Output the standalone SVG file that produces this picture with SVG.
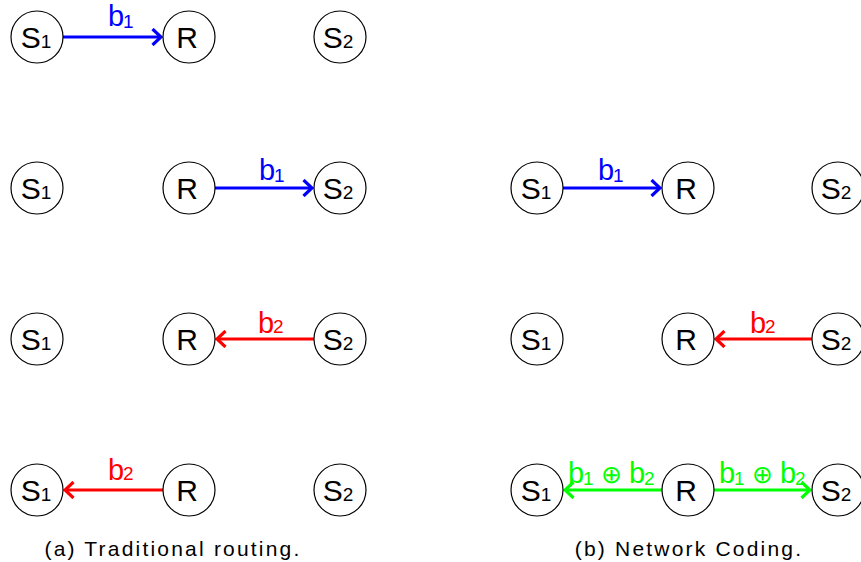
<svg xmlns="http://www.w3.org/2000/svg" width="861" height="562" viewBox="0 0 861 562">
<style>
.node circle{fill:#fff;stroke:#000;stroke-width:1.2}
.nt{font-family:"Liberation Sans",Arial,sans-serif;font-size:30px;fill:#000;text-anchor:middle}
.sub{font-size:19px}
.lbl{font-family:"Liberation Sans",Arial,sans-serif;font-size:29px}
.ls{font-size:19px}
.blue{fill:#0000ff}.red{fill:#ff0000}.green{fill:#00ff00}
.e{stroke-width:3.2;fill:none}
.eb{stroke:#0000ff}.er{stroke:#ff0000}.eg{stroke:#00ff00}
.cap{font-family:"Liberation Sans",Arial,sans-serif;font-size:21px;letter-spacing:2.2px;fill:#000;text-anchor:middle}
.xor{font-family:"DejaVu Sans",sans-serif;font-size:25px;font-weight:200}
</style>
<defs>
<marker id="ab" markerUnits="userSpaceOnUse" viewBox="0 0 12 18" refX="10" refY="9" markerWidth="12" markerHeight="18" orient="auto"><path d="M1.5,1 L10,9 L1.5,17" fill="none" stroke="#0000ff" stroke-width="3.2"/></marker>
<marker id="ar" markerUnits="userSpaceOnUse" viewBox="0 0 12 18" refX="10" refY="9" markerWidth="12" markerHeight="18" orient="auto"><path d="M1.5,1 L10,9 L1.5,17" fill="none" stroke="#ff0000" stroke-width="3.2"/></marker>
<marker id="ag" markerUnits="userSpaceOnUse" viewBox="0 0 12 18" refX="10" refY="9" markerWidth="12" markerHeight="18" orient="auto"><path d="M1.5,1 L10,9 L1.5,17" fill="none" stroke="#00ff00" stroke-width="3.2"/></marker>
</defs>

<g id="connectors">
<line class="e eb" x1="63" y1="37" x2="161" y2="37" marker-end="url(#ab)"/>
<line class="e eb" x1="215" y1="188" x2="312" y2="188" marker-end="url(#ab)"/>
<line class="e er" x1="314" y1="339" x2="217" y2="339" marker-end="url(#ar)"/>
<line class="e er" x1="163" y1="490" x2="65" y2="490" marker-end="url(#ar)"/>
<line class="e eb" x1="563" y1="188" x2="660" y2="188" marker-end="url(#ab)"/>
<line class="e er" x1="812" y1="339" x2="716" y2="339" marker-end="url(#ar)"/>
<line class="e eg" x1="662" y1="490" x2="565" y2="490" marker-end="url(#ag)"/>
<line class="e eg" x1="714" y1="490" x2="810" y2="490" marker-end="url(#ag)"/>
</g>

<g id="labels">
<text class="lbl blue" x="108" y="26">b<tspan class="ls" x="123" y="28">1</tspan></text>
<text class="lbl blue" x="259" y="180">b<tspan class="ls" x="274" y="182">1</tspan></text>
<text class="lbl red" x="258" y="333">b<tspan class="ls" x="273" y="333">2</tspan></text>
<text class="lbl red" x="108" y="480">b<tspan class="ls" x="123" y="480">2</tspan></text>
<text class="lbl blue" x="598" y="180">b<tspan class="ls" x="613" y="182">1</tspan></text>
<text class="lbl red" x="750" y="333">b<tspan class="ls" x="765" y="333">2</tspan></text>
<text class="lbl green" x="568" y="483">b<tspan class="ls" x="583" y="485">1</tspan><tspan class="xor" x="601" y="483">⊕</tspan><tspan x="629" y="483">b</tspan><tspan class="ls" x="644" y="485">2</tspan></text>
<text class="lbl green" x="719" y="483">b<tspan class="ls" x="734" y="485">1</tspan><tspan class="xor" x="752" y="483">⊕</tspan><tspan x="780" y="483">b</tspan><tspan class="ls" x="795" y="485">2</tspan></text>
</g>

<g id="a-r1-S1" class="node"><circle cx="37" cy="37" r="26"/><text class="nt" x="36" y="48">S<tspan class="sub">1</tspan></text></g>
<g id="a-r1-R" class="node"><circle cx="189" cy="37" r="26"/><text class="nt" x="187" y="48">R</text></g>
<g id="a-r1-S2" class="node"><circle cx="340" cy="37" r="26"/><text class="nt" x="338" y="48">S<tspan class="sub">2</tspan></text></g>

<g id="a-r2-S1" class="node"><circle cx="37" cy="188" r="26"/><text class="nt" x="36" y="199">S<tspan class="sub">1</tspan></text></g>
<g id="a-r2-R" class="node"><circle cx="189" cy="188" r="26"/><text class="nt" x="187" y="199">R</text></g>
<g id="a-r2-S2" class="node"><circle cx="340" cy="188" r="26"/><text class="nt" x="338" y="199">S<tspan class="sub">2</tspan></text></g>

<g id="a-r3-S1" class="node"><circle cx="37" cy="339" r="26"/><text class="nt" x="36" y="350">S<tspan class="sub">1</tspan></text></g>
<g id="a-r3-R" class="node"><circle cx="189" cy="339" r="26"/><text class="nt" x="187" y="350">R</text></g>
<g id="a-r3-S2" class="node"><circle cx="340" cy="339" r="26"/><text class="nt" x="338" y="350">S<tspan class="sub">2</tspan></text></g>

<g id="a-r4-S1" class="node"><circle cx="37" cy="490" r="26"/><text class="nt" x="36" y="501">S<tspan class="sub">1</tspan></text></g>
<g id="a-r4-R" class="node"><circle cx="189" cy="490" r="26"/><text class="nt" x="187" y="501">R</text></g>
<g id="a-r4-S2" class="node"><circle cx="340" cy="490" r="26"/><text class="nt" x="338" y="501">S<tspan class="sub">2</tspan></text></g>

<g id="b-r2-S1" class="node"><circle cx="537" cy="188" r="26"/><text class="nt" x="536" y="199">S<tspan class="sub">1</tspan></text></g>
<g id="b-r2-R" class="node"><circle cx="688" cy="188" r="26"/><text class="nt" x="686" y="199">R</text></g>
<g id="b-r2-S2" class="node"><circle cx="838" cy="188" r="26"/><text class="nt" x="836" y="199">S<tspan class="sub">2</tspan></text></g>

<g id="b-r3-S1" class="node"><circle cx="537" cy="339" r="26"/><text class="nt" x="536" y="350">S<tspan class="sub">1</tspan></text></g>
<g id="b-r3-R" class="node"><circle cx="688" cy="339" r="26"/><text class="nt" x="686" y="350">R</text></g>
<g id="b-r3-S2" class="node"><circle cx="838" cy="339" r="26"/><text class="nt" x="836" y="350">S<tspan class="sub">2</tspan></text></g>

<g id="b-r4-S1" class="node"><circle cx="537" cy="490" r="26"/><text class="nt" x="536" y="501">S<tspan class="sub">1</tspan></text></g>
<g id="b-r4-R" class="node"><circle cx="688" cy="490" r="26"/><text class="nt" x="686" y="501">R</text></g>
<g id="b-r4-S2" class="node"><circle cx="838" cy="490" r="26"/><text class="nt" x="836" y="501">S<tspan class="sub">2</tspan></text></g>

<g id="captions">
<text class="cap" x="173" y="556">(a) Traditional routing.</text>
<text class="cap" x="689" y="556">(b) Network Coding.</text>
</g>
</svg>
